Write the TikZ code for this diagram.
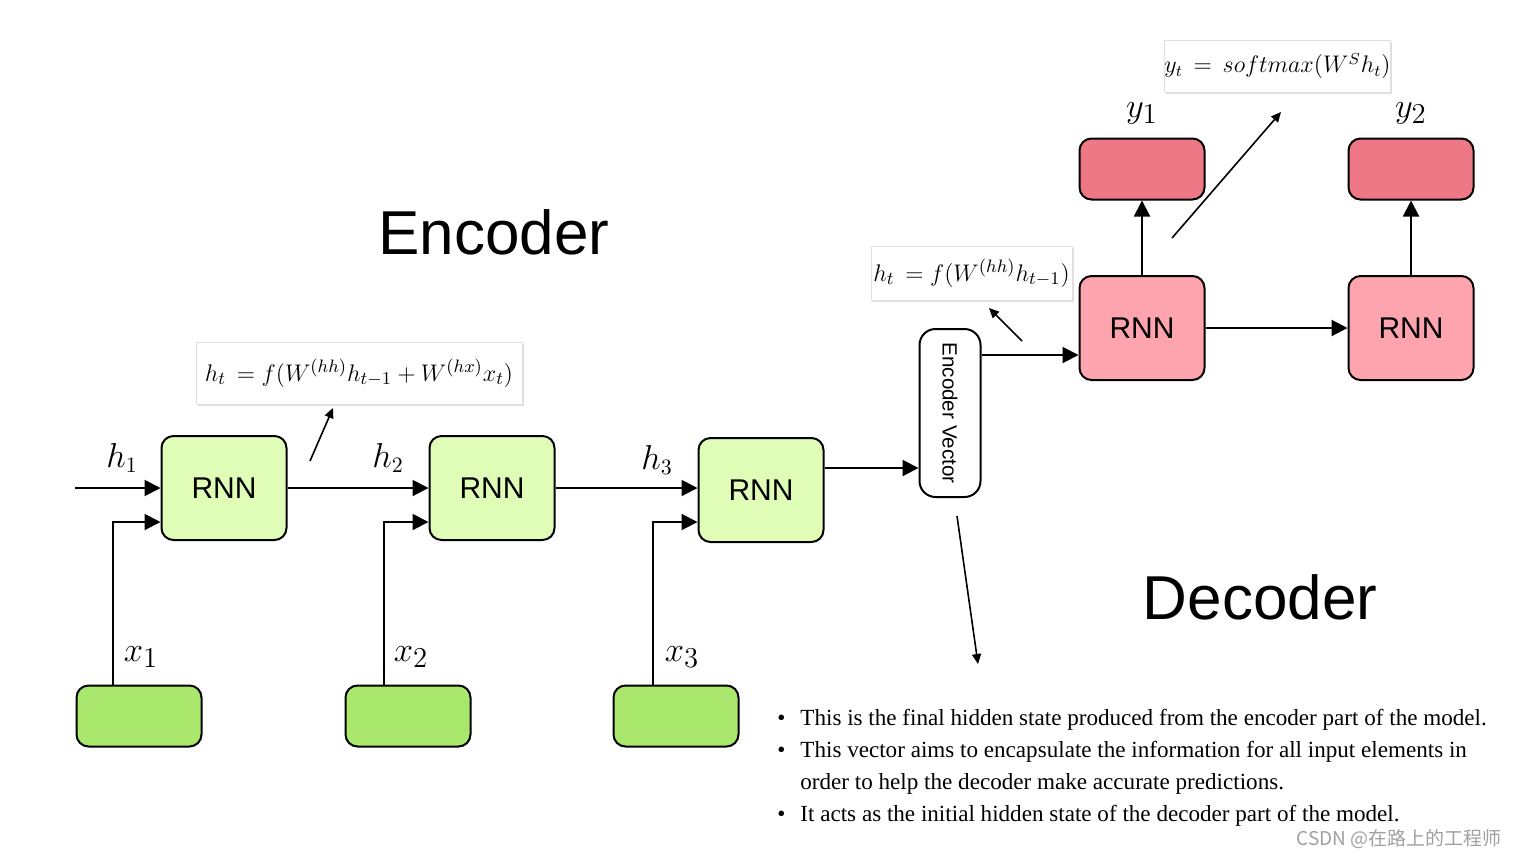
\documentclass[tikz,border=0pt]{standalone}
\usepackage{fontspec}
\setmainfont{Liberation Serif}
\setsansfont{Liberation Sans}
\newfontfamily\cjk{Noto Sans CJK SC}
\usetikzlibrary{arrows.meta,shadows}
\definecolor{encfill}{HTML}{E0FDB8}
\definecolor{infill}{HTML}{A9E86C}
\definecolor{decfill}{HTML}{FDA4AF}
\definecolor{outfill}{HTML}{EE7885}
\definecolor{wmgray}{HTML}{A0A0A0}
\begin{document}
\begin{tikzpicture}[x=0.5pt,y=-0.5pt,
 box/.style={draw=black, line width=1pt, rounded corners=6pt, minimum width=62.5pt, minimum height=52pt, inner sep=0pt, font=\sffamily\fontsize{15}{18}\selectfont},
 enc/.style={box, fill=encfill},
 inp/.style={box, fill=infill, minimum height=30.5pt},
 dec/.style={box, fill=decfill},
 outb/.style={box, fill=outfill, minimum height=30.5pt},
 conn/.style={line width=1pt, -{Triangle[length=8pt,width=8pt]}},
 note/.style={line width=0.8pt, -{Triangle[length=5pt,width=4.5pt]}},
 formula/.style={draw=black!12, fill=white, line width=0.5pt, drop shadow={opacity=0.25,shadow xshift=0.8pt,shadow yshift=-0.8pt}, inner sep=0pt, font=\fontsize{12.5}{14}\selectfont},
 hlbl/.style={font=\fontsize{16}{18}\selectfont},
 xlbl/.style={font=\fontsize{19}{22}\selectfont},
 title/.style={font=\sffamily\fontsize{31}{36}\selectfont},
 bullet/.style={anchor=base west, inner sep=0pt, font=\fontsize{11.55}{13}\selectfont},
]
\useasboundingbox (0,0) rectangle (1518,858);

% encoder
\node[enc] (r1) at (224,488) {RNN};
\node[enc] (r2) at (492,488) {RNN};
\node[enc] (r3) at (761,490) {RNN};
\node[inp] (i1) at (139,716) {};
\node[inp] (i2) at (408,716) {};
\node[inp] (i3) at (676,716) {};

\coordinate (h0) at (75,488);
\draw[conn] (h0) -- (r1.west);
\draw[conn] (r1.east) -- (r2.west);
\draw[conn] (r2.east) -- (r2.east -| r3.west);
\draw[conn] ([xshift=-13pt]i1.north) |- ([yshift=-17pt]r1.west);
\draw[conn] ([xshift=-12pt]i2.north) |- ([yshift=-17pt]r2.west);
\draw[conn] ([xshift=-11.5pt]i3.north) |- ([yshift=-16pt]r3.west);

\node[hlbl] (lh1) at (122,458) {$h_1$};
\node[hlbl] (lh2) at (388,458) {$h_2$};
\node[hlbl] (lh3) at (657,460) {$h_3$};
\node[xlbl] (lx1) at (141,657) {$x_1$};
\node[xlbl] (lx2) at (411,657) {$x_2$};
\node[xlbl] (lx3) at (682,657) {$x_3$};

% encoder vector
\node[draw=black, line width=1pt, rounded corners=8pt, fill=white, minimum width=30.5pt, minimum height=84pt, inner sep=0pt, font=\sffamily\fontsize{10.3}{12}\selectfont] (ev) at (950,413) {\rotatebox{-90}{Encoder Vector}};
\draw[conn] ([yshift=11pt]r3.east) -- ([yshift=11pt]r3.east -| ev.west);

% decoder
\node[dec] (d1) at (1142,328) {RNN};
\node[dec] (d2) at (1411,328) {RNN};
\node[outb] (o1) at (1142,169) {};
\node[outb] (o2) at (1411,169) {};
\draw[conn] ([yshift=-13.5pt]d1.west -| ev.east) -- ([yshift=-13.5pt]d1.west);
\draw[conn] (d1.east) -- (d2.west);
\draw[conn] (d1.north) -- (o1.south);
\draw[conn] (d2.north) -- (o2.south);
\node[xlbl] (ly1) at (1142,113) {$y_1$};
\node[xlbl] (ly2) at (1411,113) {$y_2$};

% titles
\node[title] (tenc) at (494,232) {Encoder};
\node[title] (tdec) at (1260,597) {Decoder};

% formulas
\node[formula, minimum width=163pt, minimum height=31pt] (f1) at (359,373) {$h_t \,= f(W^{(hh)}h_{t-1} + W^{(hx)}x_t)$};
\node[formula, minimum width=100.5pt, minimum height=27pt] (f2) at (971.5,273) {$h_t \,= f(W^{(hh)}h_{t-1})$};
\node[formula, minimum width=110.5pt, minimum height=26pt, font=\fontsize{11.8}{14}\selectfont] (f3) at (1277.5,66) {$y_t \,=\, softmax(W^S h_t)$};

% annotation arrows
\coordinate (n1a) at (310,461); \coordinate (n1b) at (333,408);
\draw[note] (n1a) -- (n1b);
\coordinate (n2a) at (1022,341); \coordinate (n2b) at (989,308);
\draw[note] (n2a) -- (n2b);
\coordinate (n3a) at (1172,238); \coordinate (n3b) at (1281,112);
\draw[note] (n3a) -- (n3b);
\coordinate (n4a) at (957,516); \coordinate (n4b) at (978,664);
\draw[note] (n4a) -- (n4b);

% bullets
\node[bullet] (b1d) at (777,725) {•};
\node[bullet] (b1) at (800,725) {This is the final hidden state produced from the encoder part of the model.};
\node[bullet] (b2d) at (777,757) {•};
\node[bullet] (b2) at (800,757) {This vector aims to encapsulate the information for all input elements in};
\node[bullet] (b3) at (800,789) {order to help the decoder make accurate predictions.};
\node[bullet] (b4d) at (777,821) {•};
\node[bullet] (b4) at (800,821) {It acts as the initial hidden state of the decoder part of the model.};

% watermark
\node[anchor=east, inner sep=0pt, text=wmgray, font=\cjk\fontsize{9.5}{11}\selectfont] (wm) at (1502,839) {CSDN @在路上的工程师};
\end{tikzpicture}
\end{document}
